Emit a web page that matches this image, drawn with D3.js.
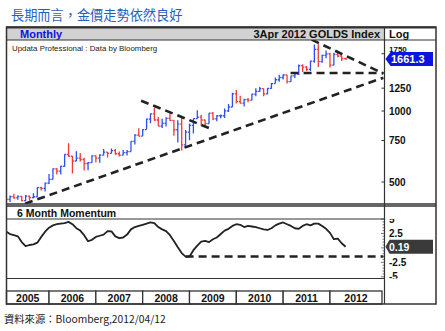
<!DOCTYPE html>
<html>
<head>
<meta charset="utf-8">
<script src="https://cdn.jsdelivr.net/npm/d3@7"></script>
<style>
  body { margin: 0; background: #fff; }
  svg { display: block; }
</style>
</head>
<body>
<svg id="chart" width="445" height="331"></svg>
<script>
// Monthly gold (GOLDS Index) bars, Jan 2005 – Apr 2012
const yearLabels = ["2005", "2006", "2007", "2008", "2009", "2010", "2011", "2012"];

const priceOpen = [
  438, 422, 434, 428, 435, 417, 436, 429, 433, 473, 470, 495,
  513, 568, 556, 582, 654, 643, 614, 632, 623, 599, 604, 646,
  632, 650, 669, 662, 680, 659, 650, 666, 673, 743, 790, 783,
  834, 923, 972, 916, 864, 887, 930, 913, 833, 880, 718, 814,
  869, 928, 942, 916, 884, 980, 926, 955, 955, 1001, 1040, 1182,
  1096, 1081, 1118, 1113, 1180, 1212, 1244, 1181, 1248, 1307, 1357, 1387,
  1421, 1333, 1410, 1439, 1556, 1536, 1500, 1628, 1825, 1620, 1722, 1746,
  1564, 1738, 1711, 1669
];
const priceHigh = [
  438, 438, 446, 438, 436, 441, 437, 448, 475, 478, 497, 541,
  571, 573, 586, 655, 730, 644, 676, 664, 633, 607, 650, 649,
  656, 690, 671, 693, 690, 674, 683, 683, 745, 797, 845, 837,
  930, 975, 1033, 943, 928, 940, 989, 915, 913, 935, 830, 885,
  930, 1007, 964, 918, 982, 990, 960, 966, 1025, 1070, 1195, 1227,
  1162, 1128, 1135, 1183, 1249, 1265, 1245, 1252, 1314, 1388, 1425, 1431,
  1424, 1412, 1448, 1575, 1577, 1553, 1632, 1913, 1921, 1730, 1803, 1764,
  1764, 1791, 1718, 1680
];
const priceLow = [
  416, 411, 425, 421, 414, 414, 418, 427, 433, 460, 456, 490,
  513, 538, 538, 580, 640, 543, 612, 611, 560, 561, 604, 606,
  603, 650, 636, 661, 653, 641, 650, 648, 673, 721, 781, 783,
  834, 887, 909, 863, 848, 860, 908, 786, 736, 681, 705, 751,
  802, 928, 865, 866, 884, 915, 904, 932, 935, 990, 1040, 1075,
  1075, 1044, 1088, 1111, 1156, 1203, 1155, 1178, 1243, 1307, 1330, 1360,
  1309, 1329, 1381, 1422, 1462, 1478, 1478, 1603, 1535, 1600, 1672, 1531,
  1563, 1690, 1628, 1656
];
const priceClose = [
  422, 434, 428, 435, 417, 436, 429, 433, 473, 470, 495, 513,
  568, 556, 582, 654, 643, 614, 632, 623, 599, 604, 646, 632,
  650, 669, 662, 680, 659, 650, 666, 673, 743, 790, 783, 834,
  923, 972, 916, 864, 887, 930, 913, 833, 880, 718, 814, 869,
  928, 942, 916, 884, 980, 926, 955, 955, 1001, 1040, 1182, 1096,
  1081, 1118, 1113, 1180, 1212, 1244, 1181, 1248, 1307, 1357, 1387, 1421,
  1333, 1410, 1439, 1556, 1536, 1500, 1628, 1825, 1620, 1722, 1746, 1564,
  1738, 1711, 1669, 1661.3
];

// 6 month momentum, one value per month
const momentum = [
  2.85, 2.4, 2.2, 2.0, 1.0, 0.3, 0.5, 0.6, 0.9, 1.9, 2.8, 3.5,
  3.9, 4.1, 4.2, 4.3, 4.5, 4.1, 3.4, 3.0, 2.2, 1.15, 1.4, 1.9,
  2.1, 2.3, 2.9, 2.85, 2.0, 1.7, 1.8, 2.3, 3.2, 3.6, 3.8, 4.0,
  4.2, 4.4, 4.3, 3.6, 3.2, 2.9, 2.2, 1.2, 0.1, -0.9, -1.5, -1.5,
  -0.4, 0.4, 1.1, 1.2, 1.0, 1.5, 1.8, 2.4, 3.0, 3.3, 3.8, 4.1,
  4.0, 3.6, 3.8, 3.7, 3.6, 3.4, 3.2, 3.1, 3.4, 3.9, 4.2, 4.4,
  4.1, 3.8, 3.4, 3.3, 3.8, 4.1, 3.9, 4.2, 4.2, 3.8, 3.3, 2.6,
  1.5, 1.6, 0.8, 0.19
];

const priceTicks = [500, 750, 1000, 1250, 1750];
const momentumTicks = [5, 2.5, -2.5, -5];

// Hand-drawn trend lines: [month position, price]
const supportLine = [[5.85, 405], [97.7, 1384]];
const resistance2008 = [[35.6, 1106], [54.1, 833]];
const resistance2011 = [[79.3, 2006], [97.7, 1441]];
const floor2011 = [[73.9, 1450], [97.7, 1450]];
const momentumFloor = [[47.0, -1.5], [97.7, -1.5]];

// ---- layout ----
const L = 6.5, R = 436, AX = 384.5;
const HEAD_T = 27, HEAD_B = 40, PRICE_B = 204;
const MOM_LBL_T = 206, MOM_T = 219, MOM_B = 278.5;
const YEAR_T = 291, YEAR_B = 304;

const svg = d3.select("#chart");
const FONT = "Arial, 'Liberation Sans', sans-serif";

const x = d3.scaleLinear().domain([0, 96]).range([2.2, 376.8]);
const y = d3.scaleLog().domain([403.5, 2000]).range([PRICE_B, HEAD_B]);
const ym = d3.scaleLinear().domain([-5.3, 5]).range([MOM_B, MOM_T]);

// title and source
svg.append("text").attr("x", 11).attr("y", 20)
  .attr("font-family", "'Noto Sans CJK TC', 'Noto Sans CJK SC', sans-serif")
  .attr("font-size", 13.2).attr("fill", "#1f5fbf")
  .text("長期而言，金價走勢依然良好");
svg.append("text").attr("x", 4).attr("y", 323)
  .attr("font-family", "'Noto Sans CJK TC', Arial, sans-serif")
  .attr("font-size", 10.3).attr("fill", "#222")
  .text("資料來源：Bloomberg,2012/04/12");

// clip regions
const defs = svg.append("defs");
defs.append("clipPath").attr("id", "clipPrice").append("rect")
  .attr("x", L).attr("y", HEAD_B).attr("width", AX - L).attr("height", PRICE_B - HEAD_B);
defs.append("clipPath").attr("id", "clipMom").append("rect")
  .attr("x", L).attr("y", MOM_T).attr("width", AX - L).attr("height", MOM_B - MOM_T);
defs.append("clipPath").attr("id", "clipMomAxis").append("rect")
  .attr("x", AX).attr("y", MOM_T).attr("width", R - AX).attr("height", MOM_B - MOM_T);

// header strip
svg.append("rect").attr("x", L).attr("y", HEAD_T).attr("width", AX - L).attr("height", HEAD_B - HEAD_T)
  .attr("fill", "#d2d2d2");
svg.append("text").attr("x", 20).attr("y", 37.5).attr("font-family", FONT)
  .attr("font-weight", "bold").attr("font-size", 11).attr("fill", "#1010e8").text("Monthly");
svg.append("text").attr("x", 380).attr("y", 37.5).attr("text-anchor", "end").attr("font-family", FONT)
  .attr("font-weight", "bold").attr("font-size", 11).attr("fill", "#111").text("3Apr 2012 GOLDS Index");
svg.append("text").attr("x", 389).attr("y", 37.5).attr("font-family", FONT)
  .attr("font-weight", "bold").attr("font-size", 11).attr("fill", "#111").text("Log");

svg.append("text").attr("x", 12).attr("y", 50.5).attr("font-family", FONT)
  .attr("font-size", 7.9).attr("fill", "#222").text("Updata Professional : Data by Bloomberg");

// price bars
const months = d3.range(priceClose.length);
const up = "#3050f0", down = "#f03a3a";
const bars = svg.append("g").attr("clip-path", "url(#clipPrice)");
const barG = bars.selectAll("g.bar").data(months).join("g")
  .attr("stroke", i => priceClose[i] >= priceOpen[i] ? up : down)
  .attr("stroke-width", 1.3);
barG.append("line")
  .attr("x1", i => x(i + 1)).attr("x2", i => x(i + 1))
  .attr("y1", i => y(priceHigh[i])).attr("y2", i => y(priceLow[i]));
barG.append("line")
  .attr("x1", i => x(i + 1) - 1.6).attr("x2", i => x(i + 1))
  .attr("y1", i => y(priceOpen[i])).attr("y2", i => y(priceOpen[i]));
barG.append("line")
  .attr("x1", i => x(i + 1)).attr("x2", i => x(i + 1) + 1.6)
  .attr("y1", i => y(priceClose[i])).attr("y2", i => y(priceClose[i]));

// trend lines
const trend = d3.line().x(d => x(d[0])).y(d => y(d[1]));
bars.selectAll("path.trend").data([supportLine, resistance2008, resistance2011, floor2011]).join("path")
  .attr("d", trend).attr("fill", "none").attr("stroke", "#222")
  .attr("stroke-width", 2.6).attr("stroke-dasharray", "8,5");

// last price tag position (the top tick label sits just above it)
const lastPrice = priceClose[priceClose.length - 1];
const tagY = y(lastPrice);

// price axis
const pAxis = svg.append("g");
pAxis.selectAll("line").data(priceTicks).join("line")
  .attr("x1", AX - 3).attr("x2", AX).attr("y1", d => y(d)).attr("y2", d => y(d))
  .attr("stroke", "#333").attr("stroke-width", 1);
pAxis.selectAll("text").data(priceTicks).join("text")
  .attr("x", 389)
  .attr("y", d => Math.abs(y(d) - tagY) < 12 ? tagY - 7.5 : y(d))
  .attr("dy", d => Math.abs(y(d) - tagY) < 12 ? "0em" : "0.35em")
  .attr("font-family", FONT).attr("font-weight", "bold")
  .attr("font-size", d => Math.abs(y(d) - tagY) < 12 ? 8 : 10)
  .attr("fill", "#111").text(d => d);

// last price tag
svg.append("path")
  .attr("d", `M${AX + 1},${tagY} L${AX + 6},${tagY - 7} H433 V${tagY + 7} H${AX + 6} Z`)
  .attr("fill", "#0c14e0");
svg.append("text").attr("x", 391).attr("y", tagY).attr("dy", "0.36em")
  .attr("font-family", FONT).attr("font-weight", "bold").attr("font-size", 11)
  .attr("fill", "#fff").text(d3.format(".1f")(lastPrice));

// momentum panel
svg.append("text").attr("x", 17).attr("y", 216.5).attr("font-family", FONT)
  .attr("font-weight", "bold").attr("font-size", 10.5).attr("fill", "#111")
  .text("6 Month Momentum");

const mg = svg.append("g").attr("clip-path", "url(#clipMom)");
mg.append("path").datum(momentum)
  .attr("d", d3.line().x((d, i) => x(i + 1)).y(d => ym(d)))
  .attr("fill", "none").attr("stroke", "#222").attr("stroke-width", 1.8)
  .attr("stroke-linejoin", "round");
mg.append("path").datum(momentumFloor)
  .attr("d", d3.line().x(d => x(d[0])).y(d => ym(d[1])))
  .attr("fill", "none").attr("stroke", "#222").attr("stroke-width", 2.6)
  .attr("stroke-dasharray", "8,5");

// momentum axis: minor ticks and labels
svg.append("g").selectAll("line").data(d3.range(-5, 5.01, 0.5)).join("line")
  .attr("x1", d => AX - (d % 2.5 === 0 ? 3.5 : 2)).attr("x2", AX)
  .attr("y1", d => ym(d)).attr("y2", d => ym(d))
  .attr("stroke", "#555").attr("stroke-width", 0.8);
svg.append("g").attr("clip-path", "url(#clipMomAxis)")
  .selectAll("text").data(momentumTicks).join("text")
  .attr("x", 389).attr("y", d => ym(d)).attr("dy", "0.35em")
  .attr("font-family", FONT).attr("font-weight", "bold").attr("font-size", 10)
  .attr("fill", "#111").text(d => d);

const lastMom = momentum[momentum.length - 1];
const mTagY = ym(lastMom);
svg.append("path")
  .attr("d", `M${AX + 1},${mTagY} L${AX + 5},${mTagY - 7} H433 V${mTagY + 7} H${AX + 5} Z`)
  .attr("fill", "#3a3a3a");
svg.append("text").attr("x", 389).attr("y", mTagY).attr("dy", "0.36em")
  .attr("font-family", FONT).attr("font-weight", "bold").attr("font-size", 10.5)
  .attr("fill", "#fff").text(lastMom);

// year strip
const yearG = svg.append("g").selectAll("g").data(yearLabels).join("g");
yearG.append("rect")
  .attr("x", (d, i) => Math.max(L, x(i * 12)))
  .attr("width", (d, i) => (i === yearLabels.length - 1 ? AX - 2.5 : x((i + 1) * 12)) - Math.max(L, x(i * 12)))
  .attr("y", YEAR_T).attr("height", YEAR_B - YEAR_T)
  .attr("fill", "#fff").attr("stroke", "#333").attr("stroke-width", 1.3);
yearG.append("text")
  .attr("x", (d, i) => (Math.max(L, x(i * 12)) + (i === yearLabels.length - 1 ? AX - 2.5 : x((i + 1) * 12))) / 2)
  .attr("y", 302).attr("text-anchor", "middle")
  .attr("font-family", FONT).attr("font-weight", "bold").attr("font-size", 10.5)
  .attr("fill", "#111").text(d => d);

// frame lines
const frame = svg.append("g").attr("stroke", "#333").attr("fill", "none");
frame.append("rect").attr("x", L).attr("y", HEAD_T).attr("width", R - L).attr("height", YEAR_B - HEAD_T)
  .attr("stroke-width", 1.5);
frame.append("line").attr("x1", L).attr("x2", R).attr("y1", HEAD_T + 0.5).attr("y2", HEAD_T + 0.5).attr("stroke-width", 2);
frame.append("line").attr("x1", L).attr("x2", R).attr("y1", HEAD_B).attr("y2", HEAD_B).attr("stroke-width", 1);
frame.append("line").attr("x1", AX).attr("x2", AX).attr("y1", HEAD_T).attr("y2", YEAR_B).attr("stroke-width", 1.2);
frame.append("line").attr("x1", L).attr("x2", R).attr("y1", PRICE_B).attr("y2", PRICE_B).attr("stroke-width", 1.3);
frame.append("line").attr("x1", L).attr("x2", R).attr("y1", MOM_LBL_T).attr("y2", MOM_LBL_T).attr("stroke-width", 1.3);
frame.append("line").attr("x1", L).attr("x2", AX).attr("y1", MOM_T).attr("y2", MOM_T).attr("stroke-width", 1);
frame.append("line").attr("x1", L).attr("x2", AX).attr("y1", MOM_B).attr("y2", MOM_B).attr("stroke-width", 1);
</script>
</body>
</html>
